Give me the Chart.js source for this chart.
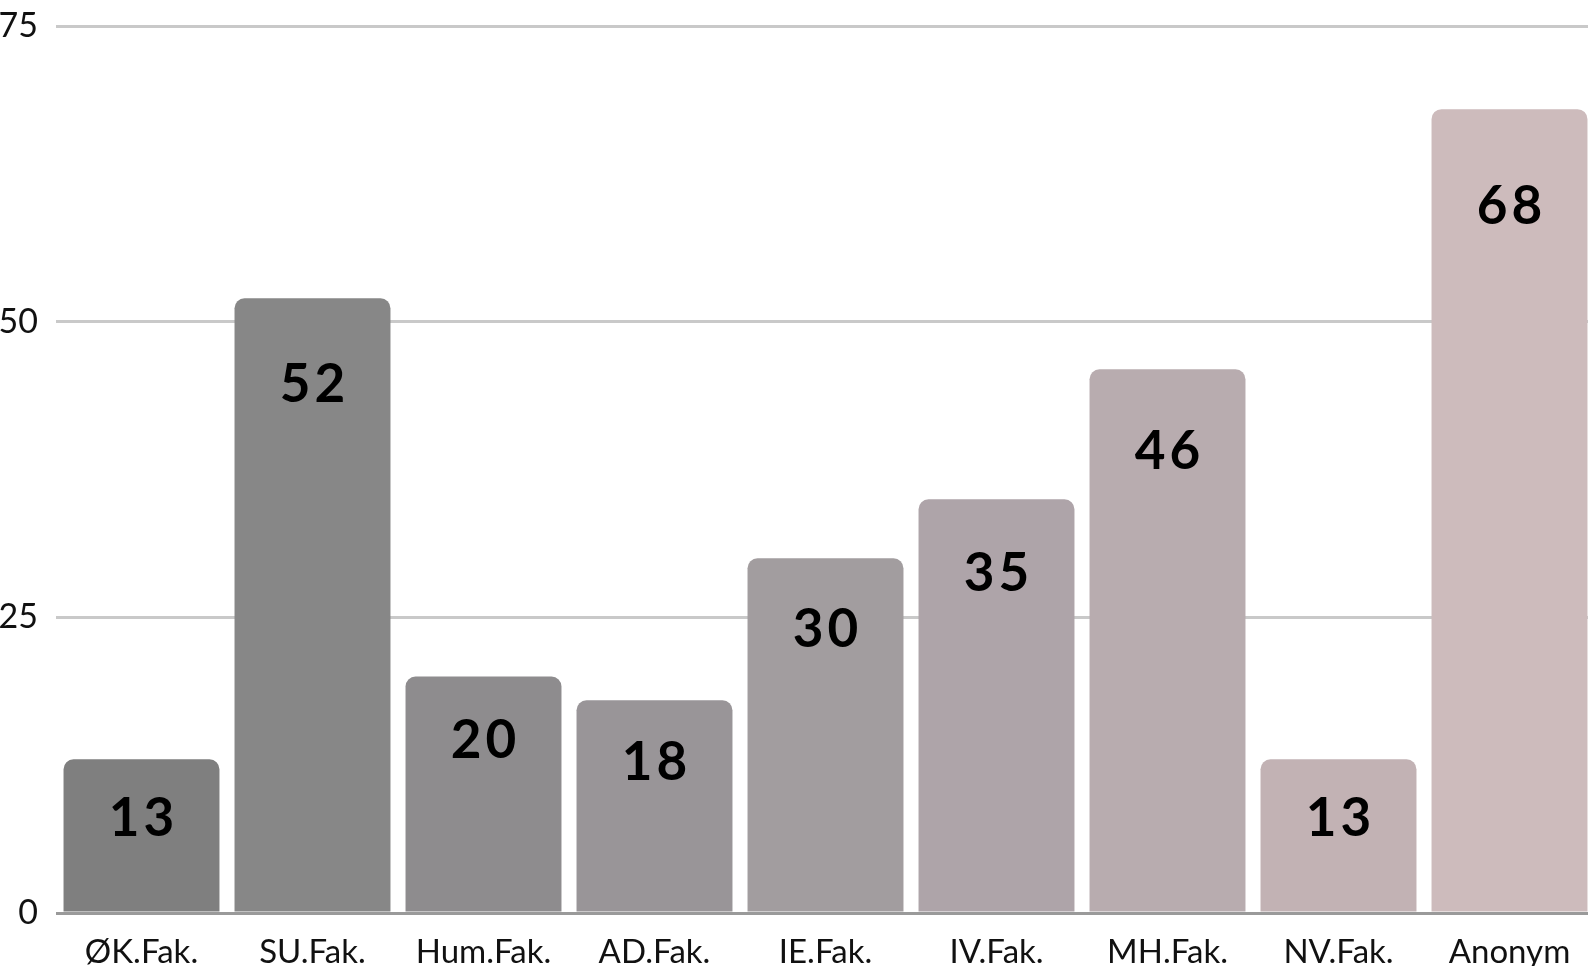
<!DOCTYPE html>
<html>
<head>
<meta charset="utf-8">
<script src="https://cdn.jsdelivr.net/npm/chart.js@4"></script>
<style>
  html, body { margin: 0; padding: 0; background: #fff; overflow: hidden; }
  #wrap { position: absolute; left: 0; top: -12px; width: 1600px; height: 1005px; }
</style>
</head>
<body>
<div id="wrap"><canvas id="facChart"></canvas></div>
<script>
// Responses per faculty
const faculties = ['ØK.Fak.', 'SU.Fak.', 'Hum.Fak.', 'AD.Fak.', 'IE.Fak.', 'IV.Fak.', 'MH.Fak.', 'NV.Fak.', 'Anonym'];
const counts = [13, 52, 20, 18, 30, 35, 46, 13, 68];
const yTicks = [0, 25, 50, 75];

// grey -> dusty rose, one shade per bar
const barColors = ['#7f7f7f', '#878787', '#8e8c8e', '#999598', '#a29d9f', '#aea4a9', '#b8acaf', '#c2b2b4', '#cdbbbc'];

// value labels drawn inside the bars, a little below the top
const valueLabels = {
    id: 'valueLabels',
    afterDatasetsDraw(chart) {
        const ctx = chart.ctx;
        const meta = chart.getDatasetMeta(0);
        ctx.save();
        ctx.font = 'bold 53px Lato';
        ctx.letterSpacing = '4px';
        ctx.fillStyle = '#000';
        ctx.textAlign = 'center';
        ctx.textBaseline = 'middle';
        meta.data.forEach((bar, i) => {
            const h = bar.base - bar.y;
            ctx.fillText(String(counts[i]), bar.x + 2, bar.y + 50 + 0.06 * h);
        });
        ctx.restore();
    }
};

const ctx = document.getElementById('facChart').getContext('2d');
const facChart = new Chart(ctx, {
    type: 'bar',
    data: {
        labels: faculties,
        datasets: [{
            data: counts,
            backgroundColor: barColors,
            borderRadius: { topLeft: 10, topRight: 10 },
            borderSkipped: 'start',
            barPercentage: 0.912,
            categoryPercentage: 1
        }]
    },
    options: {
        responsive: true,
        maintainAspectRatio: false,
        animation: false,
        layout: { padding: { top: 14, right: 5, left: 0, bottom: 0 } },
        plugins: { legend: { display: false }, tooltip: { enabled: false } },
        scales: {
            x: {
                grid: { display: false },
                border: { display: false },
                ticks: {
                    font: { family: 'Lato', size: 33 },
                    color: '#111',
                    padding: 12,
                    maxRotation: 0,
                    autoSkip: false
                },
                afterFit: s => { s.height = 80; }
            },
            y: {
                min: 0,
                max: 75,
                border: { display: false },
                grid: {
                    drawTicks: false,
                    lineWidth: 3,
                    color: c => c.tick && c.tick.value === 0 ? '#9a9a9a' : '#c9c9c9'
                },
                ticks: {
                    stepSize: 25,
                    font: { family: 'Lato', size: 34 },
                    color: '#111',
                    padding: 18
                },
                afterBuildTicks: s => { s.ticks = yTicks.map(v => ({ value: v })); },
                afterFit: s => { s.width = 56; }
            }
        }
    },
    plugins: [valueLabels]
});
</script>
</body>
</html>
